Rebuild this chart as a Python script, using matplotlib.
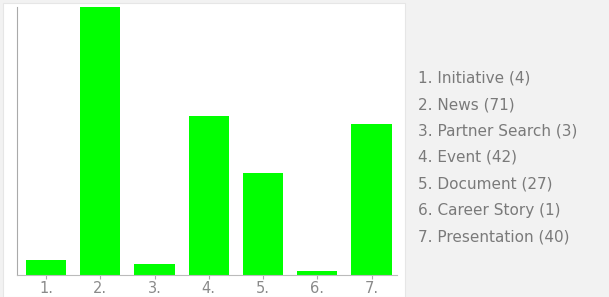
import matplotlib.pyplot as plt
from matplotlib.patches import Rectangle

# categories and counts
labels = ['Initiative', 'News', 'Partner Search', 'Event', 'Document', 'Career Story', 'Presentation']
counts = [4, 71, 3, 42, 27, 1, 40]
positions = list(range(1, len(labels) + 1))

W, H = 609, 297
fig = plt.figure(figsize=(W / 100, H / 100), dpi=100)
fig.patch.set_facecolor('#f2f2f2')
plt.rcParams['font.family'] = ['DejaVu Sans']

# white panel behind the bars
fig.patches.append(Rectangle((3 / W, 0), 402 / W, 294 / H, transform=fig.transFigure,
                             facecolor='white', edgecolor='#e6e6e6', lw=0.8, zorder=0))

ax = fig.add_axes([17 / W, 22 / H, 380 / W, 268 / H])
ax.set_zorder(2)
ax.set_facecolor('none')
ax.bar(positions, counts, width=0.74, color='#00ff00')
ax.set_xlim(0.465, 7.47)
ax.set_ylim(0, 71)
ax.set_xticks(positions)
ax.set_xticklabels([f'{p}.' for p in positions], fontsize=10.5, color='#8a8a8a')
ax.set_yticks([])
for s in ['top', 'right']:
    ax.spines[s].set_visible(False)
ax.spines['left'].set_color('#aaaaaa')
ax.spines['bottom'].set_color('#bbbbbb')
ax.tick_params(axis='x', length=3, color='#aaaaaa', pad=1)

# legend list on the right
for i, (p, lab, c) in enumerate(zip(positions, labels, counts)):
    fig.text(418 / W, 1 - (78 + i * 26.5) / H, f'{p}. {lab} ({c})', fontsize=11,
             color='#7a7a7a', va='center', ha='left')

fig.savefig('out.png', dpi=100, facecolor=fig.get_facecolor())
